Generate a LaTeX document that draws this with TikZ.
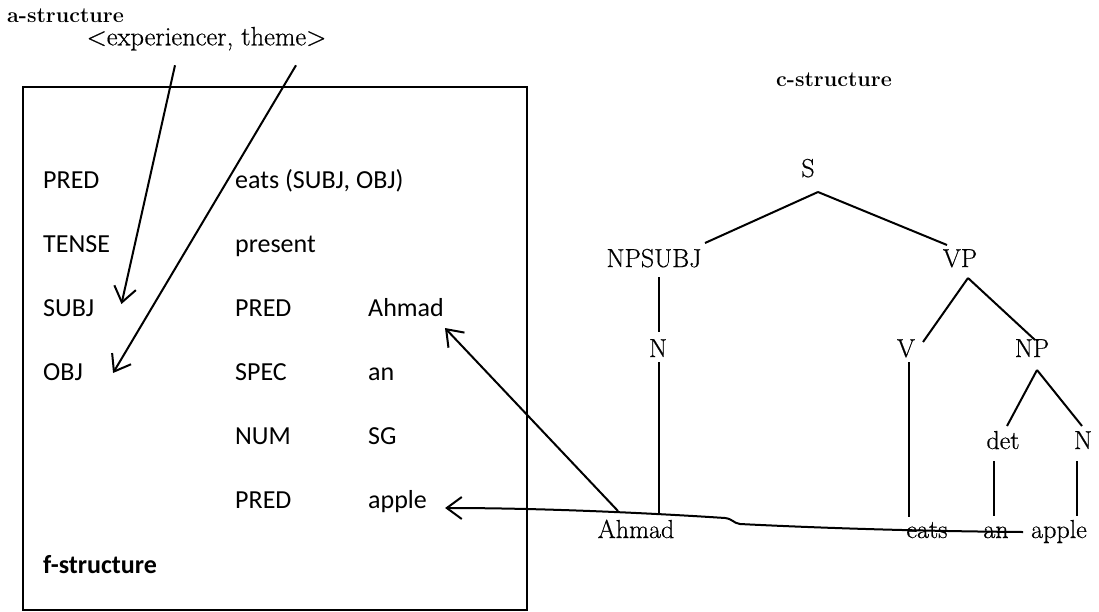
\documentclass[tikz,border=0pt]{standalone}
\usepackage{fontspec}
\newfontfamily\fsans{Carlito}
\newfontfamily\treefont{Latin Modern Roman}[FakeBold=0.6]
\usetikzlibrary{arrows.meta,calc}
\begin{document}
\begin{tikzpicture}[x=1pt,y=-1pt,
  ftxt/.style={anchor=base west, inner sep=0pt, font=\fsans\fontsize{26}{30}\selectfont},
  ttxt/.style={anchor=base, inner sep=0pt, font=\treefont\fontsize{26}{30}\selectfont},
  ttl/.style={inner sep=0pt, font=\bfseries\fontsize{21.5}{26}\selectfont},
  ln/.style={line width=2pt},
  arr/.style={line width=2pt, -{Straight Barb[length=15pt,width=22pt]}},
]
\useasboundingbox (0,0) rectangle (1099,611);

% f-structure box
\draw[line width=1.6pt] (23,87) rectangle (527,610);

% titles
\node[ttl, anchor=base west] (astr) at (7,22.5) {a-structure};
\node[anchor=base, inner sep=0pt, font=\treefont\fontsize{26.5}{30}\selectfont] (args) at (206.5,45.3) {<experiencer, theme>};
\node[ttl, anchor=base] (cstr) at (834,86) {c-structure};

% f-structure contents
\node[ftxt] (p1) at (43,188) {PRED};
\node[ftxt] (v1) at (235,188) {eats (SUBJ, OBJ)};
\node[ftxt] (p2) at (43,252) {TENSE};
\node[ftxt] (v2) at (235,252) {present};
\node[ftxt] (subj) at (43,316) {SUBJ};
\node[ftxt] (sp) at (235,316) {PRED};
\node[ftxt] (fahmad) at (368,316) {Ahmad};
\node[ftxt] (obj) at (43,380) {OBJ};
\node[ftxt] (spec) at (235,380) {SPEC};
\node[ftxt] (fan) at (368,380) {an};
\node[ftxt] (num) at (235,444) {NUM};
\node[ftxt] (sg) at (368,444) {SG};
\node[ftxt] (op) at (235,508) {PRED};
\node[ftxt] (fapple) at (368,508) {apple};
\node[ftxt, font=\fsans\bfseries\fontsize{26}{30}\selectfont] (fstr) at (43,573) {f-structure};

% c-structure tree
\node[ttxt] (S) at (808,177) {S};
\node[ttxt] (NPSUBJ) at (654,267) {NPSUBJ};
\node[ttxt] (VP) at (960,267) {VP};
\node[ttxt] (N) at (658,357) {N};
\node[ttxt] (V) at (906,357) {V};
\node[ttxt] (NP) at (1032,357) {NP};
\node[ttxt] (det) at (1003,449) {det};
\node[ttxt] (N2) at (1083,449) {N};
\node[ttxt] (Ahmad) at (636,538) {Ahmad};
\node[ttxt] (eats) at (927,538) {eats};
\node[ttxt] (an) at (996,538) {an};
\node[ttxt] (apple) at (1059,538) {apple};

\draw[ln] ($(S.base)+(10,15)$) -- ($(NPSUBJ.base)+(51,-24)$);
\draw[ln] ($(S.base)+(10,15)$) -- ($(VP.base)+(-13,-22)$);
\draw[ln] ($(NPSUBJ.base)+(5,10)$) -- ($(N.base)+(1,-25)$);
\draw[ln] ($(N.base)+(1,5)$) -- ($(Ahmad.base)+(23,-23)$);
\draw[ln] ($(VP.base)+(8,11)$) -- ($(V.base)+(17,-15)$);
\draw[ln] ($(VP.base)+(8,11)$) -- ($(NP.base)+(3,-17)$);
\draw[ln] ($(V.base)+(3,5)$) -- ($(eats.base)+(-18,-21)$);
\draw[ln] ($(NP.base)+(5,13)$) -- ($(det.base)+(4,-23)$);
\draw[ln] ($(NP.base)+(5,13)$) -- ($(N2.base)+(-1,-23)$);
\draw[ln] ($(det.base)+(-9,12)$) -- ($(an.base)+(-2,-22)$);
\draw[ln] ($(N2.base)+(-6,12)$) -- ($(apple.base)+(18,-22)$);

% mapping arrows
\draw[arr] ($(args.base)+(-31.5,20)$) -- ($(subj.base east)+(27,-12)$);
\draw[arr] ($(args.base)+(89.5,20)$) -- ($(obj.base east)+(30,-7)$);
\draw[arr] ($(Ahmad.base)+(-18,-27)$) -- ($(fahmad.base east)+(1,12)$);
\draw[arr] ($(apple.base west)+(-8,-6)$) .. controls (900,531) and (800,527) .. (740,524)
  .. controls (733,523) and (733,519) .. (725,518)
  .. controls (680,515) and (560,508) .. ($(fapple.base east)+(18,0)$);
\end{tikzpicture}
\end{document}
